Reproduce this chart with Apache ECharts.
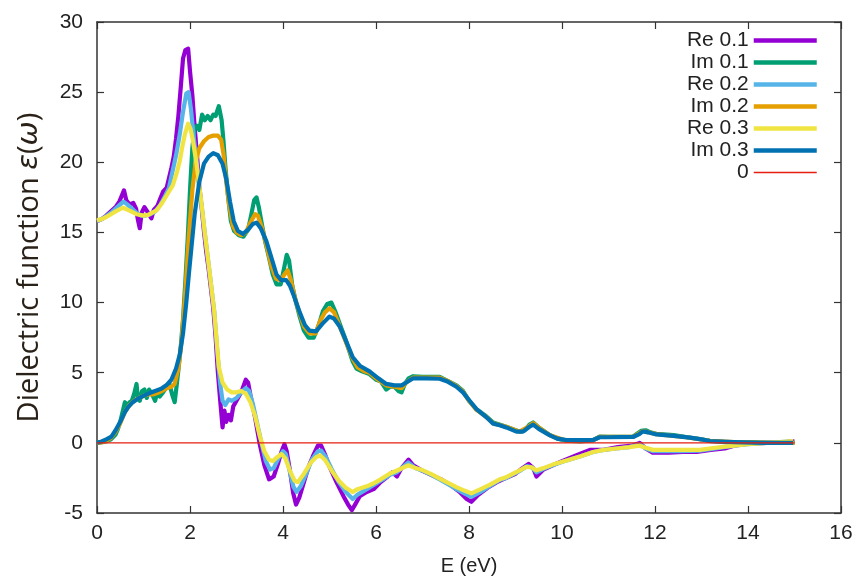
<!DOCTYPE html>
<html>
<head>
<meta charset="utf-8">
<script src="https://cdn.jsdelivr.net/npm/echarts@6/dist/echarts.min.js"></script>
<style>
html,body{margin:0;padding:0;background:#fff;}
#chart{width:859px;height:586px;}
</style>
</head>
<body>
<div id="chart"></div>
<script>
// ---- data (E in eV, value) ----
const xTicks = [0, 2, 4, 6, 8, 10, 12, 14, 16];
const yTicks = [-5, 0, 5, 10, 15, 20, 25, 30];
const seriesNames = ['Re 0.1', 'Im 0.1', 'Re 0.2', 'Im 0.2', 'Re 0.3', 'Im 0.3', '0'];

const re01 = [[0,15.8],[0.1,15.95],[0.2,16.2],[0.3,16.5],[0.4,16.8],[0.48,17.2],[0.53,17.6],[0.58,18.0],[0.63,17.3],[0.7,17.0],[0.78,17.1],[0.84,16.7],[0.88,15.9],[0.92,15.3],[0.96,16.4],[1.02,16.8],[1.08,16.5],[1.12,16.6],[1.17,16.0],[1.22,16.6],[1.3,16.9],[1.42,17.9],[1.5,18.2],[1.6,19.6],[1.65,20.4],[1.7,21.7],[1.75,23.3],[1.8,25.3],[1.85,27.4],[1.9,28.0],[1.96,28.1],[2.0,26.5],[2.05,24.8],[2.1,22.5],[2.15,20.5],[2.2,18.3],[2.25,16.8],[2.3,15.1],[2.35,13.6],[2.4,12.4],[2.45,11.0],[2.5,9.6],[2.55,7.6],[2.6,5.0],[2.65,3.0],[2.7,1.1],[2.74,2.3],[2.78,1.5],[2.83,2.0],[2.88,1.6],[2.93,2.6],[3.0,3.0],[3.1,3.6],[3.2,4.5],[3.25,4.3],[3.3,3.4],[3.4,1.8],[3.5,-0.1],[3.6,-1.6],[3.7,-2.6],[3.8,-2.4],[3.9,-1.4],[3.97,-0.6],[4.03,-0.1],[4.08,-0.6],[4.15,-2.0],[4.22,-3.6],[4.28,-4.4],[4.35,-3.9],[4.45,-2.8],[4.55,-1.7],[4.65,-0.9],[4.75,-0.2],[4.82,-0.2],[4.9,-0.8],[5.0,-1.7],[5.15,-2.8],[5.3,-3.8],[5.4,-4.4],[5.48,-4.8],[5.55,-4.4],[5.65,-3.8],[5.8,-3.5],[5.95,-3.3],[6.1,-2.8],[6.25,-2.4],[6.35,-2.1],[6.45,-2.4],[6.55,-1.8],[6.7,-1.2],[6.8,-1.6],[7.0,-2.0],[7.2,-2.3],[7.4,-2.6],[7.6,-3.0],[7.8,-3.5],[7.95,-4.0],[8.05,-4.2],[8.2,-3.7],[8.4,-3.2],[8.6,-2.8],[8.8,-2.5],[9.0,-2.2],[9.15,-1.8],[9.28,-1.5],[9.38,-1.8],[9.45,-2.4],[9.6,-1.9],[9.8,-1.6],[10.0,-1.3],[10.3,-0.9],[10.6,-0.5],[10.9,-0.5],[11.2,-0.3],[11.5,-0.2],[11.67,0.0],[11.8,-0.4],[11.95,-0.7],[12.3,-0.7],[12.6,-0.65],[12.9,-0.65],[13.2,-0.5],[13.5,-0.4],[13.7,-0.2],[14.0,-0.05],[14.4,0.0],[14.8,0.05],[15.0,0.1]];

const im01 = [[0,0],[0.1,0.05],[0.2,0.1],[0.3,0.25],[0.4,0.6],[0.45,1.0],[0.5,1.5],[0.55,2.2],[0.6,2.9],[0.65,2.5],[0.7,2.9],[0.75,3.0],[0.8,3.5],[0.85,4.2],[0.88,3.2],[0.92,3.0],[0.97,3.7],[1.02,3.8],[1.07,3.2],[1.12,3.8],[1.18,3.5],[1.25,3.0],[1.3,3.7],[1.35,3.3],[1.42,3.6],[1.5,4.0],[1.56,4.2],[1.62,3.4],[1.67,2.9],[1.71,4.0],[1.75,5.2],[1.8,6.8],[1.85,8.8],[1.9,11.5],[1.95,14.5],[2.0,18.0],[2.05,21.0],[2.1,22.4],[2.15,22.6],[2.2,22.3],[2.26,23.4],[2.32,23.0],[2.38,23.3],[2.44,23.0],[2.5,23.4],[2.55,23.3],[2.62,24.0],[2.68,23.0],[2.72,21.5],[2.76,19.7],[2.82,17.5],[2.88,15.8],[2.95,15.1],[3.05,14.8],[3.15,14.7],[3.25,15.2],[3.32,16.3],[3.38,17.3],[3.43,17.5],[3.48,16.8],[3.55,15.5],[3.62,14.3],[3.7,13.2],[3.78,12.0],[3.86,11.3],[3.95,11.3],[4.02,12.4],[4.08,13.4],[4.13,13.0],[4.2,11.2],[4.28,10.0],[4.36,9.0],[4.45,8.0],[4.55,7.5],[4.66,7.5],[4.76,8.3],[4.86,9.4],[4.95,9.9],[5.04,10.0],[5.12,9.4],[5.22,8.5],[5.32,7.6],[5.42,6.6],[5.5,5.8],[5.58,5.3],[5.7,5.1],[5.86,4.9],[6.0,4.5],[6.1,4.4],[6.22,3.8],[6.3,4.0],[6.4,4.0],[6.48,3.7],[6.55,3.6],[6.62,4.2],[6.7,4.6],[6.8,4.75],[7.0,4.7],[7.2,4.7],[7.37,4.7],[7.55,4.4],[7.73,4.1],[7.87,3.7],[8.0,3.0],[8.16,2.4],[8.37,1.9],[8.52,1.45],[8.8,1.15],[9.09,0.8],[9.2,0.9],[9.3,1.3],[9.38,1.45],[9.5,1.1],[9.74,0.55],[9.9,0.3],[10.1,0.15],[10.4,0.1],[10.67,0.2],[10.81,0.45],[11.0,0.42],[11.53,0.45],[11.7,0.85],[11.8,0.9],[11.9,0.75],[12.03,0.65],[12.4,0.55],[12.7,0.4],[12.9,0.3],[13.18,0.15],[13.5,0.05],[14.0,0.05],[14.5,0.0],[15.0,0.0]];

const re02 = [[0,15.8],[0.1,15.95],[0.2,16.15],[0.3,16.4],[0.4,16.7],[0.5,17.0],[0.57,17.2],[0.65,17.0],[0.75,16.7],[0.85,16.4],[0.95,16.2],[1.05,16.2],[1.15,16.3],[1.25,16.5],[1.35,16.9],[1.45,17.5],[1.55,18.2],[1.6,19.0],[1.7,20.5],[1.78,22.0],[1.85,23.6],[1.92,24.9],[1.97,25.0],[2.02,23.8],[2.08,21.8],[2.15,19.8],[2.2,18.0],[2.25,16.9],[2.32,14.9],[2.42,12.2],[2.52,9.4],[2.6,6.0],[2.65,4.2],[2.7,3.0],[2.76,2.7],[2.83,3.1],[2.9,3.0],[3.0,3.2],[3.1,3.6],[3.2,3.9],[3.27,3.7],[3.35,2.8],[3.45,1.3],[3.55,-0.2],[3.63,-1.3],[3.72,-1.9],[3.8,-1.8],[3.9,-1.1],[4.0,-0.6],[4.06,-0.8],[4.15,-2.1],[4.22,-3.1],[4.29,-3.5],[4.38,-3.1],[4.5,-2.2],[4.62,-1.2],[4.75,-0.6],[4.82,-0.55],[4.92,-1.0],[5.05,-1.9],[5.2,-2.8],[5.35,-3.5],[5.5,-4.0],[5.6,-3.7],[5.8,-3.3],[5.95,-3.0],[6.1,-2.7],[6.29,-2.3],[6.45,-2.1],[6.55,-1.8],[6.69,-1.4],[6.85,-1.8],[7.01,-2.0],[7.2,-2.3],[7.37,-2.6],[7.55,-2.95],[7.73,-3.3],[7.9,-3.6],[8.05,-3.85],[8.25,-3.5],[8.44,-3.1],[8.66,-2.65],[8.8,-2.5],[9.09,-2.0],[9.25,-1.65],[9.35,-1.75],[9.45,-2.1],[9.6,-1.85],[9.8,-1.6],[10.1,-1.25],[10.4,-0.95],[10.67,-0.65],[10.9,-0.5],[11.17,-0.4],[11.45,-0.3],[11.67,-0.1],[11.8,-0.4],[11.96,-0.6],[12.5,-0.6],[12.96,-0.55],[13.3,-0.4],[13.7,-0.2],[14.0,-0.1],[14.4,0.0],[14.97,0.1]];

const im02 = [[0,0],[0.1,0.05],[0.2,0.15],[0.3,0.35],[0.4,0.8],[0.5,1.4],[0.6,2.2],[0.7,2.7],[0.8,3.0],[0.9,3.2],[1.0,3.35],[1.1,3.45],[1.2,3.45],[1.3,3.55],[1.4,3.7],[1.5,3.9],[1.6,4.0],[1.67,4.2],[1.75,5.3],[1.82,7.3],[1.9,10.8],[1.97,14.5],[2.05,18.0],[2.12,20.0],[2.2,21.0],[2.3,21.5],[2.4,21.8],[2.5,21.9],[2.6,21.9],[2.67,21.6],[2.72,20.6],[2.78,18.6],[2.85,16.8],[2.92,15.5],[3.0,15.0],[3.1,14.8],[3.2,15.0],[3.3,15.7],[3.4,16.3],[3.46,16.2],[3.55,15.3],[3.65,14.0],[3.75,12.6],[3.85,11.7],[3.95,11.6],[4.05,12.1],[4.1,12.3],[4.17,11.6],[4.25,10.4],[4.35,9.3],[4.45,8.3],[4.57,7.8],[4.7,7.8],[4.8,8.7],[4.9,9.3],[5.0,9.6],[5.1,9.3],[5.22,8.3],[5.35,7.2],[5.5,6.0],[5.6,5.4],[5.75,5.1],[5.86,5.0],[6.0,4.6],[6.22,4.1],[6.4,4.0],[6.55,3.9],[6.65,4.3],[6.8,4.65],[7.0,4.65],[7.37,4.65],[7.55,4.4],[7.73,4.05],[7.87,3.65],[8.0,3.0],[8.16,2.35],[8.37,1.85],[8.52,1.4],[8.8,1.15],[9.09,0.8],[9.25,1.1],[9.38,1.4],[9.5,1.1],[9.74,0.55],[10.1,0.15],[10.67,0.2],[10.81,0.42],[11.53,0.43],[11.74,0.85],[12.03,0.62],[12.67,0.4],[13.18,0.15],[13.7,0.05],[14.5,0.0],[15.0,0.0]];

const re03 = [[0,15.86],[0.1,15.95],[0.2,16.1],[0.3,16.3],[0.4,16.5],[0.56,16.76],[0.7,16.55],[0.85,16.3],[1.0,16.2],[1.1,16.25],[1.28,16.57],[1.4,17.1],[1.49,17.6],[1.63,18.35],[1.72,19.3],[1.78,20.1],[1.84,21.2],[1.89,22.0],[1.96,22.75],[2.01,22.4],[2.06,21.6],[2.14,19.9],[2.24,17.3],[2.32,14.9],[2.42,12.2],[2.52,9.4],[2.62,5.4],[2.7,4.3],[2.8,3.8],[2.9,3.6],[3.0,3.6],[3.1,3.7],[3.2,3.5],[3.3,2.9],[3.4,1.9],[3.5,0.5],[3.6,-0.6],[3.7,-1.2],[3.78,-1.3],[3.88,-1.0],[3.97,-0.8],[4.05,-1.1],[4.15,-2.0],[4.25,-2.7],[4.32,-2.8],[4.45,-2.2],[4.6,-1.4],[4.72,-1.0],[4.8,-0.9],[4.9,-1.2],[5.05,-2.0],[5.2,-2.7],[5.35,-3.2],[5.5,-3.5],[5.6,-3.3],[5.8,-3.1],[5.94,-2.9],[6.1,-2.6],[6.29,-2.2],[6.5,-1.9],[6.69,-1.6],[6.85,-1.8],[7.01,-1.96],[7.2,-2.25],[7.37,-2.55],[7.55,-2.85],[7.73,-3.15],[7.9,-3.4],[8.05,-3.6],[8.25,-3.3],[8.44,-3.0],[8.66,-2.6],[8.8,-2.45],[9.09,-1.96],[9.23,-1.72],[9.35,-1.75],[9.45,-1.96],[9.6,-1.8],[9.8,-1.55],[10.1,-1.25],[10.4,-0.95],[10.67,-0.65],[10.9,-0.5],[11.17,-0.4],[11.45,-0.3],[11.67,-0.2],[11.8,-0.35],[11.96,-0.5],[12.5,-0.5],[12.96,-0.5],[13.3,-0.35],[13.7,-0.2],[14.0,-0.1],[14.4,0.0],[14.7,0.05],[14.97,0.13]];

const im03 = [[0,0],[0.1,0.1],[0.2,0.25],[0.31,0.45],[0.4,0.9],[0.5,1.5],[0.6,2.2],[0.67,2.55],[0.77,2.9],[0.88,3.15],[1.0,3.35],[1.13,3.55],[1.25,3.7],[1.38,3.85],[1.49,4.1],[1.6,4.5],[1.7,5.3],[1.78,6.3],[1.85,7.8],[1.92,10.0],[1.98,12.2],[2.03,13.9],[2.1,16.3],[2.2,18.6],[2.3,19.9],[2.4,20.4],[2.5,20.65],[2.6,20.5],[2.7,19.9],[2.78,18.8],[2.86,17.2],[2.94,15.8],[3.03,15.1],[3.14,14.9],[3.25,15.2],[3.35,15.6],[3.43,15.7],[3.52,15.3],[3.64,14.4],[3.75,13.2],[3.86,12.0],[3.96,11.6],[4.07,11.6],[4.15,11.2],[4.22,10.6],[4.36,9.3],[4.47,8.4],[4.57,8.0],[4.71,7.95],[4.85,8.5],[5.0,9.0],[5.1,8.85],[5.22,8.3],[5.35,7.3],[5.5,6.1],[5.65,5.5],[5.86,5.1],[6.05,4.6],[6.22,4.2],[6.4,4.1],[6.55,4.1],[6.65,4.3],[6.8,4.6],[7.08,4.6],[7.37,4.57],[7.55,4.35],[7.73,4.0],[7.87,3.6],[8.0,3.05],[8.16,2.4],[8.37,1.84],[8.52,1.37],[8.66,1.25],[8.8,1.1],[9.02,0.8],[9.16,0.8],[9.3,1.15],[9.38,1.3],[9.5,1.0],[9.73,0.55],[9.9,0.3],[10.1,0.2],[10.67,0.2],[10.81,0.4],[10.95,0.4],[11.53,0.42],[11.65,0.6],[11.74,0.82],[11.85,0.75],[12.03,0.6],[12.4,0.5],[12.75,0.37],[13.0,0.25],[13.18,0.13],[13.7,0.05],[14.3,0.0],[14.97,0.0]];

const zeroLine = [[0,0],[15,0]];

// ---- styling ----
const colors = ['#9400d3', '#009e73', '#56b4e9', '#e69f00', '#f0e442', '#0072b2', '#e51e10'];
const widths = [4.2, 4.2, 4.2, 4.2, 4.2, 4.2, 1.3];
const dataSets = [re01, im01, re02, im02, re03, im03, zeroLine];

const axisColor = '#333';
const tickFont = 'Liberation Sans, Arial, sans-serif';

function baseAxis(extra) {
  return Object.assign({
    type: 'value',
    axisLine: { show: true, onZero: false, lineStyle: { color: axisColor, width: 1.5 } },
    axisTick: { show: true, inside: true, length: 7, lineStyle: { color: axisColor, width: 1.2 } },
    splitLine: { show: false },
  }, extra);
}

const chart = echarts.init(document.getElementById('chart'), null, { renderer: 'canvas' });

const option = {
  backgroundColor: '#fff',
  animation: false,
  grid: { left: 97, right: 18, top: 22, bottom: 73, containLabel: false },
  legend: {
    orient: 'vertical',
    align: 'right',
    right: 40,
    top: 30,
    padding: 0,
    itemWidth: 63,
    itemHeight: 14,
    itemGap: 1,
    itemStyle: { opacity: 0 },
    textStyle: { fontSize: 21, fontFamily: tickFont, color: '#222', lineHeight: 20 },
    data: seriesNames.map((n, i) => ({
      name: n,
      lineStyle: { color: colors[i], width: i === 6 ? 1.5 : 4.5, opacity: 1 },
    })),
  },
  xAxis: [
    baseAxis({
      min: xTicks[0], max: xTicks[xTicks.length - 1], interval: 2, position: 'bottom',
      axisLabel: { fontSize: 21, fontFamily: tickFont, color: '#222', margin: 10 },
      name: 'E (eV)', nameLocation: 'middle', nameGap: 43,
      nameTextStyle: { fontSize: 20, fontFamily: tickFont, color: '#222' },
    }),
    baseAxis({
      min: xTicks[0], max: xTicks[xTicks.length - 1], interval: 2, position: 'top',
      axisLabel: { show: false },
    }),
  ],
  yAxis: [
    baseAxis({
      min: yTicks[0], max: yTicks[yTicks.length - 1], interval: 5, position: 'left',
      axisLabel: { fontSize: 21, fontFamily: tickFont, color: '#222', margin: 14 },
      name: 'Dielectric function {i|ε}({i|ω})', nameLocation: 'middle', nameGap: 53,
      nameTextStyle: {
        fontSize: 29, fontFamily: 'Open Sans, sans-serif', color: '#2a2218',
        rich: { i: { fontSize: 29, fontStyle: 'italic', fontFamily: 'DejaVu Sans', color: '#2a2218' } },
      },
    }),
    baseAxis({
      min: yTicks[0], max: yTicks[yTicks.length - 1], interval: 5, position: 'right',
      axisLabel: { show: false },
    }),
  ],
  series: seriesNames.map((n, i) => ({
    name: n,
    type: 'line',
    xAxisIndex: 0,
    yAxisIndex: 0,
    data: dataSets[i],
    showSymbol: false,
    symbol: 'none',
    smooth: false,
    color: colors[i],
    lineStyle: { color: colors[i], width: widths[i], join: 'round' },
    emphasis: { disabled: true },
    clip: true,
  })),
};
chart.setOption(option);
</script>
</body>
</html>
